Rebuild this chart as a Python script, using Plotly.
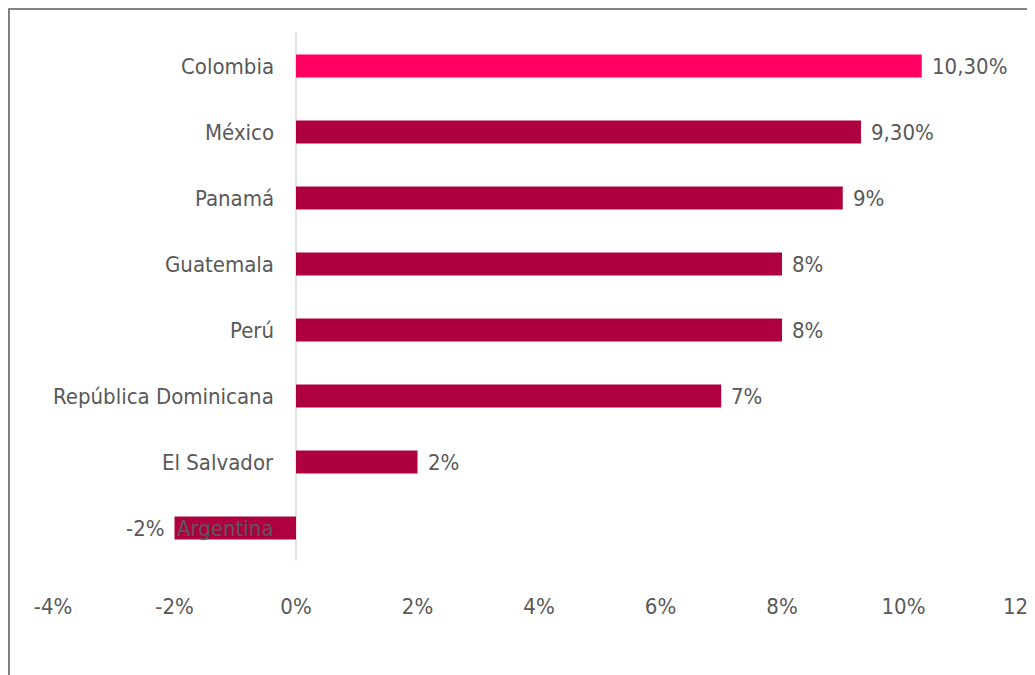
import plotly.graph_objects as go

countries = ["Colombia", "México", "Panamá", "Guatemala", "Perú", "República Dominicana", "El Salvador", "Argentina"]
values = [10.3, 9.3, 9, 8, 8, 7, 2, -2]
value_labels = ["10,30%", "9,30%", "9%", "8%", "8%", "7%", "2%", "-2%"]
tick_vals = [-4, -2, 0, 2, 4, 6, 8, 10, 12]
tick_text = ["-4%", "-2%", "0%", "2%", "4%", "6%", "8%", "10%", "12%"]

FONT = "DejaVu Sans Condensed, Liberation Sans Narrow, Roboto, sans-serif"
GRAY = "#595959"
colors = ["#FF0062" if c == "Colombia" else "#AE0040" for c in countries]

fig = go.Figure(go.Bar(
    x=values, y=countries, orientation="h",
    marker=dict(color=colors, line=dict(width=0)),
    hoverinfo="skip",
))

annotations = []
for c, v, t in zip(countries, values, value_labels):
    annotations.append(dict(x=0, y=c, text=c, xref="x", yref="y", showarrow=False,
                            xanchor="right", xshift=-20, font=dict(family=FONT, size=22, color=GRAY)))
    annotations.append(dict(x=v, y=c, text=t, xref="x", yref="y", showarrow=False,
                            xanchor="left" if v >= 0 else "right", xshift=8 if v >= 0 else -8,
                            font=dict(family=FONT, size=22, color=GRAY)))

fig.update_layout(
    width=1027, height=667,
    margin=dict(l=45, r=10, t=25, b=114, autoexpand=False),
    paper_bgcolor="white", plot_bgcolor="white",
    bargap=0.65,
    showlegend=False,
    annotations=annotations,
    xaxis=dict(range=[-4, 12], tickvals=tick_vals, ticktext=tick_text, showgrid=False,
               zeroline=True, zerolinecolor="#E3E3E3", zerolinewidth=2, automargin=False,
               showline=False, ticks="", ticklabelstandoff=30, ticklabeloverflow="allow",
               tickfont=dict(family=FONT, size=22, color=GRAY)),
    yaxis=dict(autorange="reversed", showticklabels=False, showgrid=False, zeroline=False,
               showline=False, ticks="", automargin=False),
    shapes=[dict(type="rect", xref="paper", yref="paper", x0=-0.0453, x1=1.2, y0=-0.4, y1=1.0455,
                 line=dict(color=GRAY, width=1.5), layer="below")],
)

fig.write_html("out.html")
